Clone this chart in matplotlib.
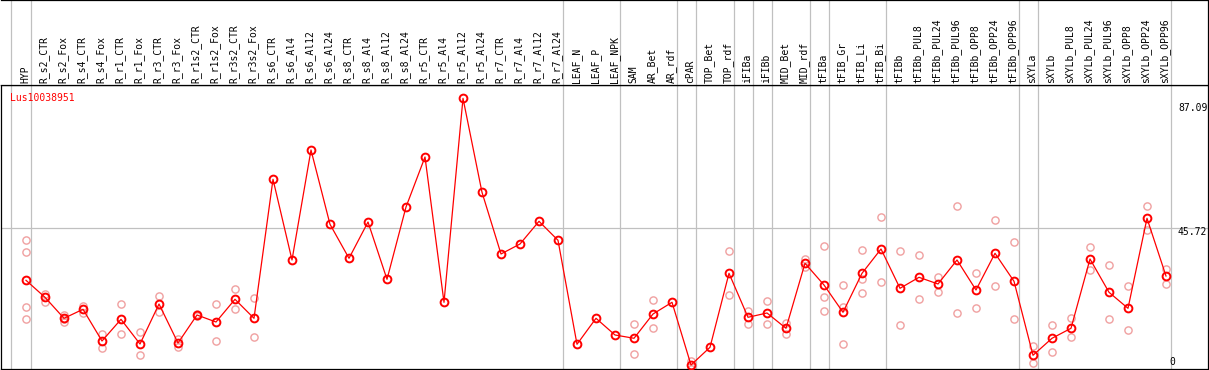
import matplotlib
matplotlib.use("Agg")
import matplotlib.pyplot as plt

gene = "Lus10038951"

samples = ["HYP",
           "R_s2_CTR", "R_s2_Fox", "R_s4_CTR", "R_s4_Fox",
           "R_r1_CTR", "R_r1_Fox", "R_r3_CTR", "R_r3_Fox",
           "R_r1s2_CTR", "R_r1s2_Fox", "R_r3s2_CTR", "R_r3s2_Fox",
           "R_s6_CTR", "R_s6_Al4", "R_s6_Al12", "R_s6_Al24",
           "R_s8_CTR", "R_s8_Al4", "R_s8_Al12", "R_s8_Al24",
           "R_r5_CTR", "R_r5_Al4", "R_r5_Al12", "R_r5_Al24",
           "R_r7_CTR", "R_r7_Al4", "R_r7_Al12", "R_r7_Al24",
           "LEAF_N", "LEAF_P", "LEAF_NPK",
           "SAM", "AR_Bet", "AR_rdf",
           "cPAR",
           "TOP_Bet", "TOP_rdf",
           "iFIBa",
           "iFIBb",
           "MID_Bet", "MID_rdf",
           "tFIBa",
           "tFIB_Gr", "tFIB_Li", "tFIB_Bi",
           "tFIBb", "tFIBb_PUL8", "tFIBb_PUL24", "tFIBb_PUL96",
           "tFIBb_OPP8", "tFIBb_OPP24", "tFIBb_OPP96",
           "sXYLa",
           "sXYLb", "sXYLb_PUL8", "sXYLb_PUL24", "sXYLb_PUL96",
           "sXYLb_OPP8", "sXYLb_OPP24", "sXYLb_OPP96"]

# index of the last sample in each tissue group
group_ends = [0, 28, 31, 34, 35, 37, 38, 39, 41, 42, 45, 52, 53, 60]

means = [29.18, 23.77, 17.09, 19.96, 9.87, 16.77, 8.91, 21.64, 9.23,
         18.14, 15.91, 23.14, 17.09,
         61.33, 35.65, 70.66, 47.01, 36.19, 47.74, 29.50, 52.51,
         68.43, 22.18, 87.09, 57.19, 37.56, 40.74, 47.96, 41.92,
         8.82, 17.09, 11.78,
         10.73, 18.46, 22.18,
         2.23,
         7.86, 31.41,
         17.41, 18.78,
         13.91, 34.60,
         27.69,
         19.00, 31.41, 39.15,
         26.64, 30.14, 28.01, 35.65, 26.10, 37.78, 28.87,
         5.32,
         10.73, 13.91, 35.96, 25.37, 20.27, 48.92, 30.55]

replicates = [[42.01, 38.10, 20.59, 16.77], [24.82, 22.37], [18.14, 16.77, 15.91],
              [21.10, 18.87], [12.19, 7.73], [21.64, 12.00], [12.73, 5.32],
              [24.09, 19.00], [10.41, 8.05], [18.46, 17.82], [21.55, 9.87],
              [26.42, 19.96], [23.46, 11.04],
              [], [], [], [], [], [], [], [], [], [], [], [], [], [], [], [],
              [], [], [],
              [15.28, 5.63], [22.82, 13.91], [],
              [3.60, 0.86],
              [], [38.51, 24.51],
              [19.51, 15.37], [22.50, 15.18],
              [15.69, 12.19], [35.87, 33.51],
              [40.10, 23.77, 19.32],
              [27.69, 20.78, 8.91], [38.73, 29.69, 25.05], [49.24, 28.55],
              [38.51, 14.96], [37.24, 23.14], [30.33, 25.56], [52.74, 18.68],
              [31.60, 20.27], [48.38, 27.28], [41.28, 16.77],
              [8.28, 2.77],
              [14.96, 6.37], [17.09, 11.04], [39.78, 32.46], [34.05, 16.77],
              [27.37, 13.37], [52.74, 45.19], [32.78, 27.91]]

scale_labels = ["87.09", "45.72", "0"]
scale_values = [87.09, 45.72, 0]

GRAY = "#c0c0c0"
W, H = 1209, 370


def main():
    plt.rcParams["font.family"] = "DejaVu Sans Mono"
    fig = plt.figure(figsize=(W / 100, H / 100), dpi=100)

    # pixel layout of the original: header 0-85, plot 85-369
    left, right = 1 / W, 1207.5 / W
    ax = fig.add_axes([left, 1.2 / H, right - left, 283.8 / H])
    hd = fig.add_axes([left, 285 / H, right - left, 84.6 / H])

    xlim = (-25 / 19, 1181.5 / 19)
    for a in (ax, hd):
        a.set_xlim(*xlim)
        a.set_xticks([])
        a.set_yticks([])
        for s in a.spines.values():
            s.set_color("black")
            s.set_linewidth(0.9)
        a.axvline(-0.8, color=GRAY, lw=0.9, zorder=0)
        for g in group_ends:
            a.axvline(g + 0.24, color=GRAY, lw=0.9, zorder=0)
    hd.set_ylim(0, 1)
    hd.spines["left"].set_visible(False)
    ax.set_ylim((372 - 368.8) / 3.142, (372 - 85) / 3.142)

    ax.axhline(45.72, color=GRAY, lw=0.9, zorder=0)

    x = list(range(len(samples)))
    for i, reps in enumerate(replicates):
        ax.plot([i] * len(reps), reps, "o", ms=5.2, mfc="none",
                mec="#f0a0a0", mew=1.0, zorder=2)
    ax.plot(x, means, "-", color="#ff0000", lw=0.9, zorder=3)
    ax.plot(x, means, "o", ms=5.6, mfc="none", mec="#ff0000", mew=1.4,
            zorder=4)

    for i, name in enumerate(samples):
        hd.text(i - 0.05, 0.02, name, rotation=90, ha="center", va="bottom",
                fontsize=7, color="black")

    ax.text(0.0075, 0.955, gene, transform=ax.transAxes, color="#ff0000",
            fontsize=7, ha="left", va="center")

    # pixel offsets of the scale labels from their value lines
    offsets = [-9.5, -4.0, 10.0]
    xs = [60.63, 60.63, 60.18]
    for lab, val, off, xx in zip(scale_labels, scale_values, offsets, xs):
        ax.annotate(lab, (xx, val), xytext=(0, off * 0.72),
                    textcoords="offset points", fontsize=7, ha="left",
                    va="center", annotation_clip=False)

    fig.savefig("out.png", dpi=100)


if __name__ == "__main__":
    main()
